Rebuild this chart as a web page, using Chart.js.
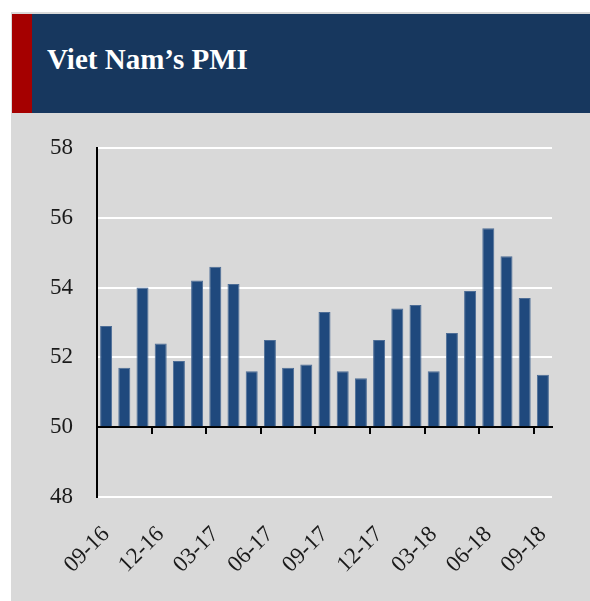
<!DOCTYPE html>
<html>
<head>
<meta charset="utf-8">
<script src="https://cdn.jsdelivr.net/npm/chart.js@4.4.1/dist/chart.umd.min.js"></script>
<style>
    body { margin: 0; background: #ffffff; width: 590px; height: 601px; overflow: hidden; position: relative; }
    .panel { position: absolute; left: 11px; top: 12px; right: 0; bottom: 0; background: #d9d9d9; }
    .header { position: absolute; left: 12px; top: 14px; right: 0; height: 99px; background: #17375e; }
    .stripe { position: absolute; left: 0; top: 0; width: 20px; height: 100%; background: #a50000; }
    .title { position: absolute; left: 35px; top: 29px; color: #ffffff; font-family: "Liberation Serif", serif; font-weight: bold; font-size: 29px; }
    #chartWrap { position: absolute; left: 0; top: 0; width: 590px; height: 601px; }
</style>
</head>
<body>
<div class="panel"></div>
<div class="header"><div class="stripe"></div><div class="title">Viet Nam’s PMI</div></div>
<div id="chartWrap"><canvas id="pmiChart" width="590" height="601"></canvas></div>

<script>
// Monthly PMI readings, 09-16 .. 09-18
const months = ['09-16', '10-16', '11-16', '12-16', '01-17', '02-17', '03-17', '04-17', '05-17',
    '06-17', '07-17', '08-17', '09-17', '10-17', '11-17', '12-17', '01-18', '02-18', '03-18',
    '04-18', '05-18', '06-18', '07-18', '08-18', '09-18'];
const pmiValues = [52.9, 51.7, 54.0, 52.4, 51.9, 54.2, 54.6, 54.1, 51.6, 52.5, 51.7, 51.8, 53.3,
    51.6, 51.4, 52.5, 53.4, 53.5, 51.6, 52.7, 53.9, 55.7, 54.9, 53.7, 51.5];
const yTicks = [48, 50, 52, 54, 56, 58];
const baseLine = 50;

Chart.defaults.font.family = '"Liberation Serif", serif';
Chart.defaults.color = '#1a1a1a';

const ctx = document.getElementById('pmiChart').getContext('2d');
new Chart(ctx, {
    type: 'bar',
    data: {
        labels: months,
        datasets: [{
            data: pmiValues,
            base: baseLine,
            backgroundColor: '#1f497d',
            borderColor: '#4d6d96',
            borderWidth: 1,
            barPercentage: 0.66,
            categoryPercentage: 1.0
        }]
    },
    options: {
        responsive: false,
        animation: false,
        layout: { padding: { top: 148, right: 38, left: 0, bottom: 0 } },
        plugins: { legend: { display: false }, tooltip: { enabled: false } },
        scales: {
            x: {
                offset: true,
                grid: { display: false },
                border: { display: false },
                ticks: {
                    autoSkip: false,
                    minRotation: 45,
                    maxRotation: 45,
                    padding: 16,
                    font: { size: 23 },
                    callback: function (value, index) {
                        return index % 3 === 0 ? months[index] : '';
                    }
                },
                afterFit: (scale) => { scale.height = 104; }
            },
            x2: {
                type: 'category',
                labels: months,
                position: { y: baseLine },
                offset: true,
                z: 1,
                grid: {
                    offset: true,
                    drawOnChartArea: false,
                    drawTicks: true,
                    tickLength: 6,
                    lineWidth: 2,
                    color: (c) => (c.index % 3 === 0 ? '#000000' : 'rgba(0,0,0,0)')
                },
                border: { display: true, color: '#000000', width: 2 },
                ticks: { display: false, autoSkip: false }
            },
            y: {
                min: 48,
                max: 58,
                afterBuildTicks: (scale) => { scale.ticks = yTicks.map(v => ({ value: v })); },
                grid: {
                    drawTicks: false,
                    lineWidth: 2,
                    color: (c) => (c.tick && c.tick.value === baseLine ? 'rgba(0,0,0,0)' : '#ffffff')
                },
                border: { display: true, color: '#000000', width: 2 },
                ticks: { padding: 24, font: { size: 23 } },
                afterFit: (scale) => { scale.width = 97; }
            }
        }
    }
});
</script>
</body>
</html>
